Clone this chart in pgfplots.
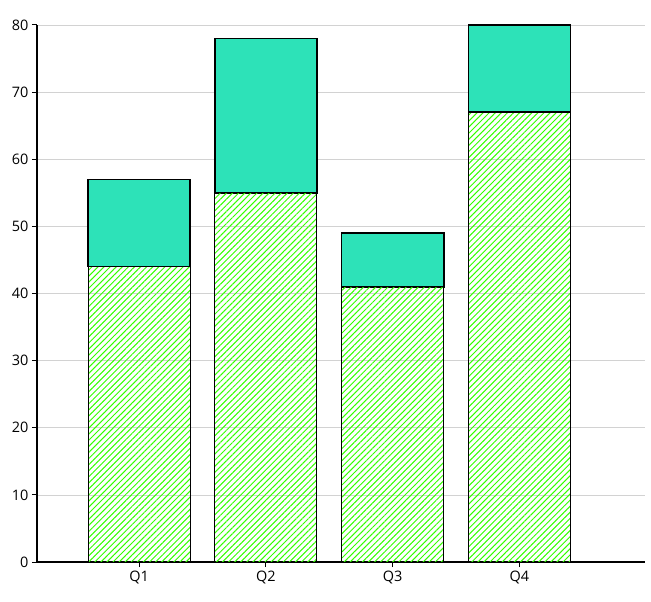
\documentclass[border=0pt]{standalone}
\usepackage{pgfplots}
\pgfplotsset{compat=1.18}
\usepackage{fontspec}
\setmainfont{Open Sans}
\usetikzlibrary{patterns.meta}
\definecolor{topc}{HTML}{2DE2B8}
\definecolor{hatchc}{HTML}{33FF00}
\begin{document}
\begin{tikzpicture}[x=1bp,y=1bp]
\path[use as bounding box] (-37bp,-40bp) rectangle (614bp,562bp);
\begin{axis}[
  at={(0,0)}, anchor=south west,
  scale only axis, width=608bp, height=537bp,
  ybar stacked, bar width=0.805,
  xmin=-0.805, xmax=3.99, ymin=0, ymax=80,
  xtick={0,1,2,3}, xticklabels={Q1,Q2,Q3,Q4},
  ytick={0,10,...,80},
  axis x line*=bottom, axis y line*=left,
  axis line style={line width=1.6bp, -},
  ymajorgrids, grid style={gray!35, line width=0.6bp},
  major tick length=5bp,
  xtick style={black, line width=1bp},
  ytick style={black, line width=1bp},
  xtick align=outside, ytick align=outside,
  tick label style={font=\fontsize{14.5}{16}\selectfont},
  /pgf/number format/assume math mode=true,
  xticklabel style={yshift=-1bp},
  clip=false,
]
\addplot[draw=black, line width=0.9bp, pattern={Lines[angle=45,distance=4.3bp,line width=1bp]}, pattern color=hatchc]
  coordinates {(0,44) (1,55) (2,41) (3,67)};
\addplot[draw=black, line width=1.6bp, fill=topc]
  coordinates {(0,13) (1,23) (2,8) (3,13)};
\end{axis}
\end{tikzpicture}
\end{document}
